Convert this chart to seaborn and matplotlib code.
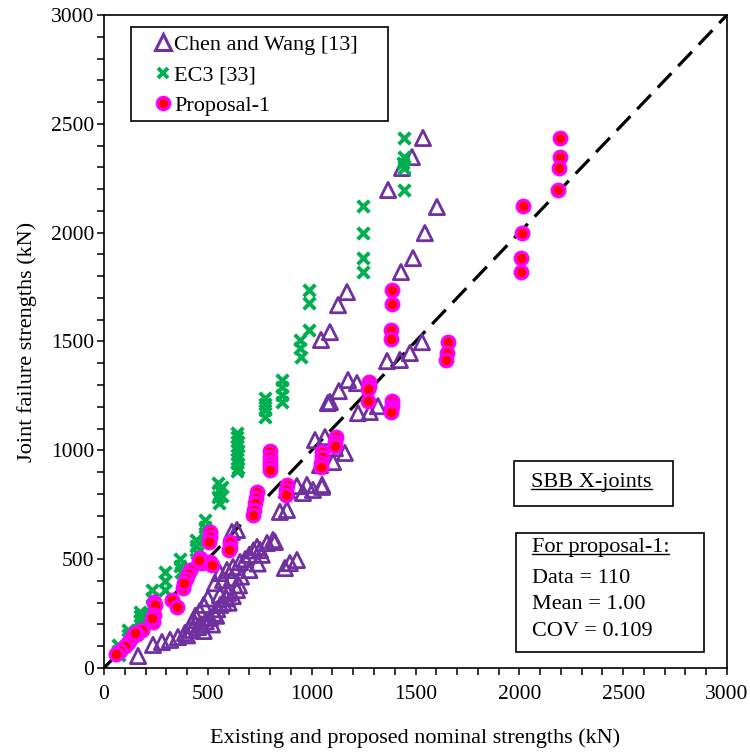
import matplotlib
matplotlib.use("Agg")
import matplotlib.pyplot as plt
import pandas as pd
import seaborn as sns
from matplotlib.lines import Line2D
from matplotlib.patches import Rectangle
from matplotlib.ticker import MultipleLocator

# Chen and Wang [13]: nominal strength (kN) vs joint failure strength (kN)
chen_x = [1536, 1483, 1435, 1368, 1603, 1545, 1488, 1430, 1170, 1127, 1088, 1045,
          1531, 1473, 1425, 1363, 1175, 1218, 1131, 1088, 1319, 1280, 1223, 1078,
          1016, 1064, 1040, 1103, 1160, 1112, 881, 929, 977, 1050,
          164, 236, 279, 318, 356, 390, 424, 453, 470, 490, 510, 530, 545, 560, 575, 590,
          558, 597, 640, 534, 573, 616, 558, 592, 621, 655, 680, 700, 720, 737, 785, 814,
          751, 823, 871, 895, 929, 616, 640, 847, 881, 958, 1006, 1050,
          400, 420, 440, 460, 480, 500, 520, 540, 600, 620, 650, 660, 700, 740, 760, 480, 430]
chen_y = [2435, 2347, 2297, 2196, 2118, 1998, 1883, 1819, 1727, 1667, 1543, 1507,
          1497, 1447, 1415, 1410, 1323, 1309, 1272, 1222, 1203, 1176, 1171, 1217,
          1047, 1061, 932, 946, 988, 1010, 818, 836, 841, 841,
          55, 106, 119, 129, 142, 161, 175, 188, 200, 215, 230, 250, 270, 290, 300, 320,
          335, 345, 358, 390, 404, 413, 436, 450, 464, 487, 500, 520, 540, 556, 574, 588,
          542, 579, 459, 482, 496, 625, 634, 717, 726, 804, 818, 832,
          150, 200, 240, 260, 290, 320, 200, 240, 300, 330, 380, 420, 450, 480, 520, 170, 220]

# EC3 [33]
ec3_x = [1444, 1444, 1440, 1444, 1444, 1247, 1247, 1247, 1247,
         988, 988, 988, 944, 944, 948, 857, 857, 857, 857, 775, 775, 775, 775,
         640, 640, 645, 640, 640, 645, 640, 640, 645, 640,
         550, 552, 550, 555, 570, 570, 486, 486, 486, 488, 443, 443, 446, 443,
         366, 366, 370, 294, 294, 294, 231, 231, 231, 235, 173, 173, 175,
         116, 116, 118, 67, 67, 70]
ec3_y = [2435, 2347, 2320, 2297, 2196, 2122, 1998, 1883, 1819,
         1736, 1676, 1553, 1507, 1470, 1429, 1323, 1290, 1254, 1222, 1240, 1213, 1185, 1153,
         1080, 1060, 1040, 1020, 1000, 980, 960, 940, 920, 905,
         850, 818, 786, 758, 830, 790, 680, 650, 620, 590, 590, 560, 530, 500,
         500, 470, 440, 440, 400, 360, 360, 320, 290, 270, 257, 240, 220,
         175, 150, 130, 105, 80, 60]

# Proposal-1
prop_x = [2195, 2195, 2190, 2185, 2017, 2012, 2008, 2008, 1388, 1385, 1383, 1383,
          1655, 1650, 1645, 1277, 1275, 1273, 1272, 1388, 1386, 1383, 1383,
          1115, 1112, 1110, 1050, 1050, 1046, 1046, 800, 800, 798, 798, 800,
          881, 878, 876, 737, 733, 728, 720, 716, 607, 607, 603, 510, 510, 505,
          462, 472, 510, 520, 455, 414, 405, 395, 380, 385, 327, 351,
          241, 245, 236, 241, 230, 183, 159, 135, 116, 100, 77, 60, 150]
prop_y = [2435, 2347, 2297, 2196, 2122, 1998, 1883, 1819, 1736, 1672, 1553, 1511,
          1497, 1447, 1415, 1314, 1295, 1282, 1226, 1226, 1203, 1190, 1176,
          1061, 1040, 1020, 992, 969, 942, 923, 997, 969, 945, 928, 910,
          841, 818, 795, 808, 781, 758, 726, 703, 579, 551, 542, 625, 602, 579,
          505, 482, 487, 473, 495, 450, 430, 410, 367, 390, 312, 280,
          303, 290, 211, 243, 230, 175, 156, 142, 115, 100, 78, 65, 160]

series_names = ["Chen and Wang [13]", "EC3 [33]", "Proposal-1"]

frames = []
for name, xs, ys in zip(series_names, [chen_x, ec3_x, prop_x], [chen_y, ec3_y, prop_y]):
    frames.append(pd.DataFrame({"nominal": xs, "failure": ys, "method": name}))
data = pd.concat(frames, ignore_index=True)

sns.set_theme(style="ticks")
plt.rcParams["font.family"] = ["Liberation Serif", "DejaVu Serif"]

PURPLE = "#7030A0"
GREEN = "#00B050"
RED = "#FF0000"
MAGENTA = "#FF00FF"
FS = 16

fig = plt.figure(figsize=(7.5, 7.53), dpi=100)
ax = fig.add_axes([0.1387, 0.1129, 0.8306, 0.8672])

sns.scatterplot(data=data[data.method == series_names[0]], x="nominal", y="failure",
                ax=ax, marker="^", s=120, facecolors="none", edgecolors=PURPLE,
                linewidth=2.0, legend=False, zorder=3)
sns.scatterplot(data=data[data.method == series_names[1]], x="nominal", y="failure",
                ax=ax, marker="x", s=70, color=GREEN, linewidth=2.8,
                legend=False, zorder=4)
sns.scatterplot(data=data[data.method == series_names[2]], x="nominal", y="failure",
                ax=ax, marker="o", s=85, facecolor=RED, edgecolor=MAGENTA,
                linewidth=2.2, legend=False, zorder=5)

# 1:1 reference line
ax.plot([0, 3000], [0, 3000], color="black", lw=2.3, dashes=(6.2, 3.1), zorder=2)

ax.set_xlim(0, 3000)
ax.set_ylim(0, 3000)
ax.xaxis.set_major_locator(MultipleLocator(500))
ax.yaxis.set_major_locator(MultipleLocator(500))
ax.xaxis.set_minor_locator(MultipleLocator(100))
ax.yaxis.set_minor_locator(MultipleLocator(100))
ax.tick_params(which="both", direction="out", length=5, width=1.1, color="black",
               labelsize=15.5, labelcolor="black")
ax.tick_params(axis="x", pad=7)
ax.tick_params(axis="y", pad=2)
for sp in ax.spines.values():
    sp.set_visible(True)
    sp.set_color("black")
    sp.set_linewidth(1.2)

ax.set_xlabel("Existing and proposed nominal strengths (kN)", fontsize=FS,
              color="black", labelpad=18)
ax.set_ylabel("Joint failure strengths (kN)", fontsize=FS, color="black", labelpad=10)

handles = [
    Line2D([], [], ls="none", marker="^", ms=11, mfc="none", mec=PURPLE, mew=2.2),
    Line2D([], [], ls="none", marker="x", ms=7.5, mec=GREEN, mew=2.8),
    Line2D([], [], ls="none", marker="o", ms=9, mfc=RED, mec=MAGENTA, mew=2.2),
]
leg = ax.legend(handles, series_names, loc="upper left", bbox_to_anchor=(0.081, 0.970),
                fontsize=FS, frameon=False, handlelength=0.75, handletextpad=0.15,
                borderpad=0.0, labelspacing=0.45, borderaxespad=0.0)
for t in leg.get_texts():
    t.set_color("black")
# legend frame
ax.add_patch(Rectangle((0.0433, 0.8377), 0.4126, 0.1439, transform=ax.transAxes,
                       fill=False, edgecolor="black", lw=1.2, zorder=6))

# annotation boxes
ax.add_patch(Rectangle((0.658, 0.248), 0.255, 0.069, transform=ax.transAxes,
                       fill=False, edgecolor="black", lw=1.2, zorder=6))
ax.add_patch(Rectangle((0.661, 0.0245), 0.302, 0.1822, transform=ax.transAxes,
                       fill=False, edgecolor="black", lw=1.2, zorder=6))

t_sbb = ax.text(0.686, 0.2833, "SBB X-joints", transform=ax.transAxes, fontsize=FS,
                va="center", ha="left", color="black", zorder=7)
t_for = ax.text(0.687, 0.1838, "For proposal-1:", transform=ax.transAxes, fontsize=FS,
                va="center", ha="left", color="black", zorder=7)
stats = ["Data = 110", "Mean = 1.00", "COV = 0.109"]
for i, line in enumerate(stats):
    ax.text(0.687, 0.1378 - i * 0.0413, line, transform=ax.transAxes, fontsize=FS,
            va="center", ha="left", color="black", zorder=7)

# underline the box headings
fig.canvas.draw()
renderer = fig.canvas.get_renderer()
for t in (t_sbb, t_for):
    bb = t.get_window_extent(renderer).transformed(ax.transAxes.inverted())
    ax.plot([bb.x0, bb.x1], [bb.y0 + 0.005, bb.y0 + 0.005], transform=ax.transAxes,
            color="black", lw=1.0, zorder=7)

fig.savefig("out.png", dpi=100)
